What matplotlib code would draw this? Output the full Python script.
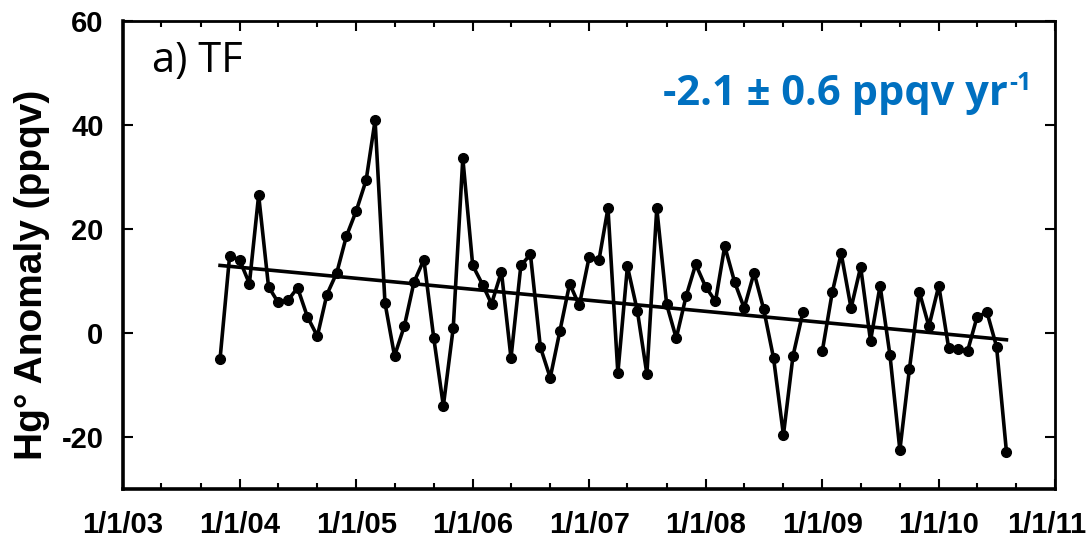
# Hg anomaly time series at TF with linear trend

import matplotlib.pyplot as plt
import matplotlib.dates as mdates
import matplotlib.transforms as mtransforms
import numpy as np
import pandas as pd

plt.rcParams["axes.unicode_minus"] = False

# monthly anomalies (ppqv), Nov 2003 - Aug 2010, Dec 2008 missing
months = pd.date_range("2003-11-01", "2010-08-01", freq="MS")
anomaly = [
    -5.0, 14.8,                                                        # 2003
    14.1, 9.5, 26.5, 8.9, 5.9, 6.3, 8.7, 3.1, -0.6, 7.4, 11.6, 18.6,  # 2004
    23.5, 29.4, 40.9, 5.8, -4.4, 1.4, 9.8, 14.1, -1.0, -14.0, 1.0, 33.6,  # 2005
    13.0, 9.3, 5.6, 11.8, -4.8, 13.0, 15.1, -2.7, -8.6, 0.3, 9.5, 5.3,  # 2006
    14.6, 14.1, 24.0, -7.7, 12.8, 4.3, -7.9, 24.0, 5.5, -1.0, 7.1, 13.2,  # 2007
    8.9, 6.1, 16.7, 9.8, 4.8, 11.6, 4.6, -4.8, -19.6, -4.4, 4.0, np.nan,  # 2008
    -3.4, 7.8, 15.3, 4.8, 12.7, -1.5, 9.1, -4.3, -22.5, -6.9, 7.9, 1.3,  # 2009
    9.1, -2.9, -3.1, -3.5, 3.1, 4.0, -2.6, -22.8,                      # 2010
]
trend_start = 13.0
trend_end = -1.3
trend_text = "-2.1 \u00b1 0.6 ppqv yr"
trend_exp = "-1"
panel_label = "a) TF"

arial = ["Liberation Sans", "DejaVu Sans"]
calibri = ["Open Sans", "DejaVu Sans"]

fig = plt.figure(figsize=(10.89, 5.4), dpi=100)
ax = fig.add_axes([0.113, 0.0944, 0.856, 0.8667])

ax.plot(months, anomaly, "k-", lw=2.6, marker="o", ms=7)
ax.plot([months[0], months[-1]], [trend_start, trend_end], "k-", lw=2.6)

ax.set_xlim(pd.Timestamp("2003-01-01"), pd.Timestamp("2011-01-01"))
ax.set_ylim(-30, 60)
ax.set_yticks([-20, 0, 20, 40, 60])

ax.xaxis.set_major_locator(mdates.YearLocator())
ax.xaxis.set_minor_locator(mdates.MonthLocator(bymonth=[5, 9]))
ax.xaxis.set_major_formatter(
    plt.FuncFormatter(lambda v, p: "{0}/{1}/{2:%y}".format(
        mdates.num2date(v).month, mdates.num2date(v).day, mdates.num2date(v))))

ax.tick_params(which="both", direction="in", top=True, right=True, width=1.5)
ax.tick_params(which="major", length=7)
ax.tick_params(which="minor", length=4.5)
ax.tick_params(axis="x", which="major", pad=16)
ax.tick_params(axis="y", which="major", pad=14)

xlabels = ax.get_xticklabels()
for lab in xlabels + ax.get_yticklabels():
    lab.set_family(arial)
    lab.set_weight("bold")
    lab.set_fontsize(21)
# nudge the last date label so it stays inside the figure
shift = mtransforms.ScaledTranslation(-9 / 100, 0, fig.dpi_scale_trans)
xlabels[-1].set_transform(xlabels[-1].get_transform() + shift)

for s in ["left", "bottom"]:
    ax.spines[s].set_linewidth(2.6)
for s in ["top", "right"]:
    ax.spines[s].set_linewidth(2.0)

ax.set_ylabel("Hg\u00b0 Anomaly (ppqv)", fontsize=28, fontweight="bold",
              family=arial)
ax.yaxis.set_label_coords(-0.078, 0.457)

ax.text(0.031, 0.96, panel_label, transform=ax.transAxes, fontsize=30,
        family=calibri, va="top", ha="left")
t = ax.text(0.579, 0.82, trend_text, transform=ax.transAxes, fontsize=30,
            family=calibri, fontweight="bold", color="#0070C0",
            va="baseline", ha="left")
ax.annotate(trend_exp, xy=(1.0, 1.0), xycoords=t, xytext=(1, 2),
            textcoords="offset points", fontsize=18, family=calibri,
            fontweight="bold", color="#0070C0", va="top", ha="left")

plt.savefig("out.png", dpi=100)
